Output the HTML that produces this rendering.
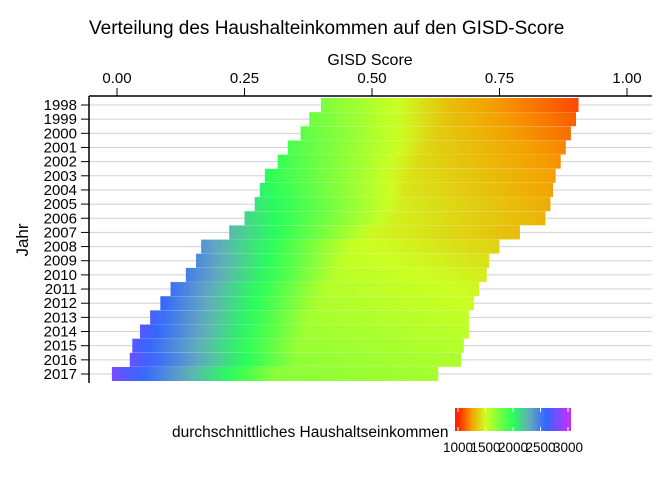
<!DOCTYPE html>
<html><head><meta charset="utf-8">
<style>
html,body{margin:0;padding:0;background:#fff;}
svg{display:block;font-family:"Liberation Sans",Arial,sans-serif;}
</style></head>
<body>
<svg id="chart" width="672" height="480" viewBox="0 0 672 480">
<defs id="defs"></defs>
<text x="89" y="34" font-size="19" fill="#000">Verteilung des Haushalteinkommen auf den GISD-Score</text>
<text x="370" y="65" font-size="16" text-anchor="middle" fill="#000">GISD Score</text>
<text x="28" y="240" font-size="17" text-anchor="middle" transform="rotate(-90 28 240)" fill="#000">Jahr</text>
<g id="grid"></g>
<g id="bars"></g>
<g id="axes"></g>
<g id="legend"></g>
</svg>
<script>
const years = [1998,1999,2000,2001,2002,2003,2004,2005,2006,2007,2008,2009,2010,2011,2012,2013,2014,2015,2016,2017];
const minScore = [0.40,0.377,0.36,0.335,0.315,0.29,0.28,0.27,0.25,0.22,0.165,0.155,0.135,0.105,0.085,0.065,0.045,0.03,0.025,-0.01];
const maxScore = [0.905,0.90,0.89,0.88,0.87,0.86,0.855,0.85,0.84,0.79,0.75,0.73,0.725,0.71,0.70,0.69,0.69,0.68,0.675,0.63];
const incomeAtMax = [1080,1120,1150,1200,1220,1250,1260,1280,1300,1320,1380,1420,1450,1480,1500,1530,1550,1570,1590,1620];
const incomeAtMid = [1330,1350,1370,1390,1400,1420,1430,1450,1460,1480,1520,1540,1560,1580,1600,1620,1640,1660,1680,1700];
const incomeAtMin = [1750,1800,1850,1900,1950,2000,2050,2100,2150,2250,2400,2450,2500,2550,2600,2650,2700,2700,2750,2800];
const xTicks = [0,0.25,0.5,0.75,1];
const xTickLabels = ["0.00","0.25","0.50","0.75","1.00"];
const legendTicks = [1000,1500,2000,2500,3000];

const cmapVals = [1000,1250,1500,2000,2300,2600,3000];
const cmapCols = [[255,32,0],[245,160,0],[204,255,34],[40,255,90],[100,170,190],[51,102,255],[187,51,255]];
function color(v){
  if(v<=cmapVals[0]) return rgb(cmapCols[0]);
  for(let i=1;i<cmapVals.length;i++){
    if(v<=cmapVals[i]){const t=(v-cmapVals[i-1])/(cmapVals[i]-cmapVals[i-1]);
      return rgb(cmapCols[i-1].map((c,k)=>Math.round(c+(cmapCols[i][k]-c)*t)));}
  }
  return rgb(cmapCols[cmapCols.length-1]);
}
function rgb(a){return 'rgb('+a.join(',')+')';}
const X0=89,X1=652,Y0=96,Y1=383;
function x(s){return 117+s*510;}
function y(i){return 105+i*(374-105)/(years.length-1);}
const NS='http://www.w3.org/2000/svg';
function mk(tag,attrs,parent){const e=document.createElementNS(NS,tag);for(const k in attrs)e.setAttribute(k,attrs[k]);parent.appendChild(e);return e;}
const defs=document.getElementById('defs'),grid=document.getElementById('grid'),bars=document.getElementById('bars'),axes=document.getElementById('axes'),legend=document.getElementById('legend');

years.forEach((yr,i)=>{
  const gl=mk('line',{x1:X0,x2:X1,y1:y(i),y2:y(i),stroke:'#d0d0d0','stroke-width':1},grid);
  
  
  const g=mk('linearGradient',{id:'g'+i,gradientUnits:'userSpaceOnUse',x1:x(minScore[i]),x2:x(maxScore[i]),y1:0,y2:0},defs);
  for(let k=0;k<=20;k++){
    const t=k/20;
    const inc = t<0.5 ? incomeAtMin[i]+(incomeAtMid[i]-incomeAtMin[i])*t*2 : incomeAtMid[i]+(incomeAtMax[i]-incomeAtMid[i])*(t-0.5)*2;
    mk('stop',{offset:t,'stop-color':color(inc)},g);
  }
  const r=mk('rect',{x:x(minScore[i]),y:y(i)-7,width:x(maxScore[i])-x(minScore[i]),height:14,fill:'url(#g'+i+')'},bars);
  
  
  const t=mk('text',{x:77,y:y(i)+5,'font-size':15,'text-anchor':'end',fill:'#000'},axes);
  t.textContent=yr;
  
  
  mk('line',{x1:81,x2:89,y1:y(i),y2:y(i),stroke:'#000','stroke-width':1},axes);
});
mk('line',{x1:X0,x2:X0,y1:Y0,y2:Y1,stroke:'#000','stroke-width':1.5},axes);
mk('line',{x1:X0,x2:X1,y1:Y0,y2:Y0,stroke:'#000','stroke-width':1.5},axes);
xTicks.forEach((v,i)=>{
  mk('line',{x1:x(v),x2:x(v),y1:88,y2:Y0,stroke:'#000','stroke-width':1},axes);
  const t=mk('text',{x:x(v),y:83,'font-size':15,'text-anchor':'middle',fill:'#000'},axes);
  t.textContent=xTickLabels[i];
  
  
});
const lx0=455,lx1=571;
function lx(v){return lx0+3+(v-1000)/2000*(lx1-lx0-6);}
const lg=mk('linearGradient',{id:'lg',gradientUnits:'userSpaceOnUse',x1:lx(1000),x2:lx(3000),y1:0,y2:0},defs);
cmapVals.forEach((v,k)=>mk('stop',{offset:(v-1000)/2000,'stop-color':rgb(cmapCols[k])},lg));
const lr=mk('rect',{x:lx0,y:408,width:lx1-lx0,height:23,fill:'url(#lg)'},legend);


const lt=mk('text',{x:172,y:437,'font-size':15.5,fill:'#000'},legend);
lt.textContent='durchschnittliches Haushaltseinkommen';


legendTicks.forEach(v=>{
  mk('line',{x1:lx(v),x2:lx(v),y1:408,y2:412,stroke:'#fff','stroke-width':1},legend);
  mk('line',{x1:lx(v),x2:lx(v),y1:427,y2:431,stroke:'#fff','stroke-width':1},legend);
  const t=mk('text',{x:lx(v),y:452,'font-size':13.5,'text-anchor':'middle',fill:'#000'},legend);
  t.textContent=v;
  
  
});
</script>
</body></html>
